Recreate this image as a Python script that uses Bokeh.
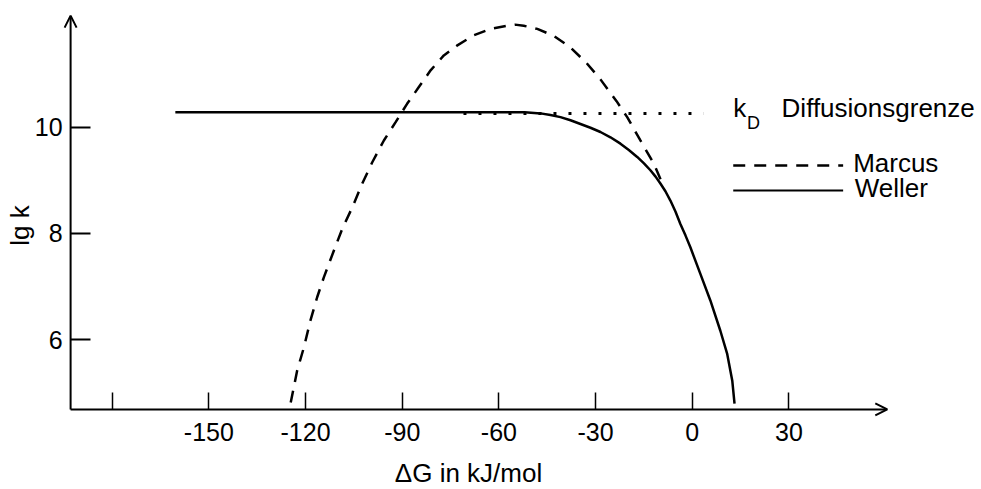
from bokeh.plotting import figure
from bokeh.models import Range1d, FixedTicker, Label, Arrow, OpenHead
from bokeh.embed import file_html
from bokeh.resources import INLINE

FONT = "Liberation Sans"

# ---- data ----
x_ticks = [-180, -150, -120, -90, -60, -30, 0, 30]
x_tick_labels = ["", "-150", "-120", "-90", "-60", "-30", "0", "30"]
y_ticks = [6, 8, 10]
y_tick_labels = ["6", "8", "10"]

weller_dg = [-160.4, -140, -120, -100, -80, -60, -52, -47.1, -44.0, -40.9, -37.8, -34.7,
             -31.6, -28.5, -25.4, -22.3, -19.7, -17.1, -15.0, -13.0, -11.4, -9.9, -8.3,
             -6.8, -5.2, -3.7, -2.1, -0.6, 2.5, 5.6, 8.7, 10.8, 12.4, 13.1]
weller_lgk = [10.28, 10.28, 10.28, 10.28, 10.28, 10.28, 10.28, 10.26, 10.23, 10.19, 10.13,
              10.06, 9.99, 9.91, 9.81, 9.69, 9.57, 9.44, 9.32, 9.19, 9.07, 8.94, 8.79,
              8.62, 8.41, 8.18, 7.96, 7.74, 7.24, 6.74, 6.17, 5.74, 5.23, 4.80]

marcus_dg = [-124.6, -122.6, -120.5, -118.5, -116.4, -114.3, -111.2, -108.6, -105.5, -102.4,
             -99.3, -95.7, -92.1, -88.5, -84.9, -81.2, -77.1, -72.9, -67.8, -62.6, -57.4,
             -55.0, -52.3, -48.1, -43.0, -38.0, -33.0, -28.5, -23.5, -20.2, -16.1, -11.9, -8.8]
marcus_lgk = [4.82, 5.42, 5.86, 6.36, 6.80, 7.18, 7.68, 8.09, 8.49, 8.94,
              9.34, 9.75, 10.09, 10.44, 10.75, 11.07, 11.35, 11.54, 11.73, 11.85, 11.91,
              11.93, 11.91, 11.85, 11.72, 11.51, 11.22, 10.90, 10.49, 10.19, 9.75, 9.31, 8.87]

kd_dg = [-71.0, 3.5]
kd_lgk = [10.26, 10.26]

x_title = "\u0394G in kJ/mol"
y_title = "lg k"
kd_label = "Diffusionsgrenze"
marcus_label = "Marcus"
weller_label = "Weller"

# ---- figure: the frame fills the canvas, axes sit at fixed data locations ----
X0, Y0 = -192.9, 4.689          # where the two axes cross
p = figure(width=981, height=489, output_backend="svg", toolbar_location=None,
           x_range=Range1d(-214.65, 89.73), y_range=Range1d(3.183, 12.384),
           min_border=0)
p.grid.visible = False
p.outline_line_color = None

for ax in (p.xaxis[0], p.yaxis[0]):
    ax.axis_line_color = None
    ax.major_tick_out = 0
    ax.minor_tick_line_color = None
    ax.major_tick_line_color = "black"
    ax.major_label_text_font = FONT
    ax.major_label_text_font_size = "25px"
    ax.major_label_text_color = "black"

p.xaxis.fixed_location = Y0
p.xaxis.ticker = FixedTicker(ticks=x_ticks)
p.xaxis.major_label_overrides = {t: l for t, l in zip(x_ticks, x_tick_labels)}
p.xaxis.major_tick_in = 17
p.xaxis.major_tick_line_width = 1.5
p.xaxis.major_label_standoff = 14

p.yaxis.fixed_location = X0
p.yaxis.ticker = FixedTicker(ticks=y_ticks)
p.yaxis.major_label_overrides = {t: l for t, l in zip(y_ticks, y_tick_labels)}
p.yaxis.major_tick_in = 20
p.yaxis.major_tick_line_width = 2
p.yaxis.major_label_standoff = 8

# axis lines with open arrow heads
p.add_layout(Arrow(x_start=X0, y_start=Y0, x_end=60.5, y_end=Y0, line_width=2,
                   line_color="black",
                   end=OpenHead(size=12, line_width=2, line_color="black")))
p.add_layout(Arrow(x_start=X0, y_start=Y0, x_end=X0, y_end=12.10, line_width=2,
                   line_color="black",
                   end=OpenHead(size=12, line_width=2, line_color="black")))

# curves
p.line(kd_dg, kd_lgk, line_width=3, line_color="black", line_dash="3 12")
p.line(marcus_dg, marcus_lgk, line_width=2.5, line_color="black", line_dash="12 9")
p.line(weller_dg, weller_lgk, line_width=2.5, line_color="black", line_join="round")

# legend (drawn by hand)
p.line([12.7, 46.8], [9.28, 9.28], line_width=2.5, line_color="black", line_dash="12 9")
p.line([12.7, 46.8], [8.81, 8.81], line_width=2, line_color="black")

def lab(x, y, text, size="26px", **kw):
    p.add_layout(Label(x=x, y=y, text=text, text_font=FONT, text_font_size=size,
                       text_color="black", **kw))

lab(12.7, 10.37, "k", text_baseline="alphabetic")
lab(17.0, 10.07, "D", size="18px", text_baseline="alphabetic")
lab(27.7, 10.37, kd_label, text_baseline="alphabetic")
lab(49.9, 9.33, marcus_label, text_baseline="alphabetic")
lab(50.4, 8.86, weller_label, text_baseline="alphabetic")

# axis titles
lab(-92.3, 3.49, x_title, text_baseline="alphabetic")
lab(-208.5, 8.15, y_title, text_align="center", text_baseline="middle", angle=1.5708)

open("out.html", "w").write(file_html(p, INLINE))
